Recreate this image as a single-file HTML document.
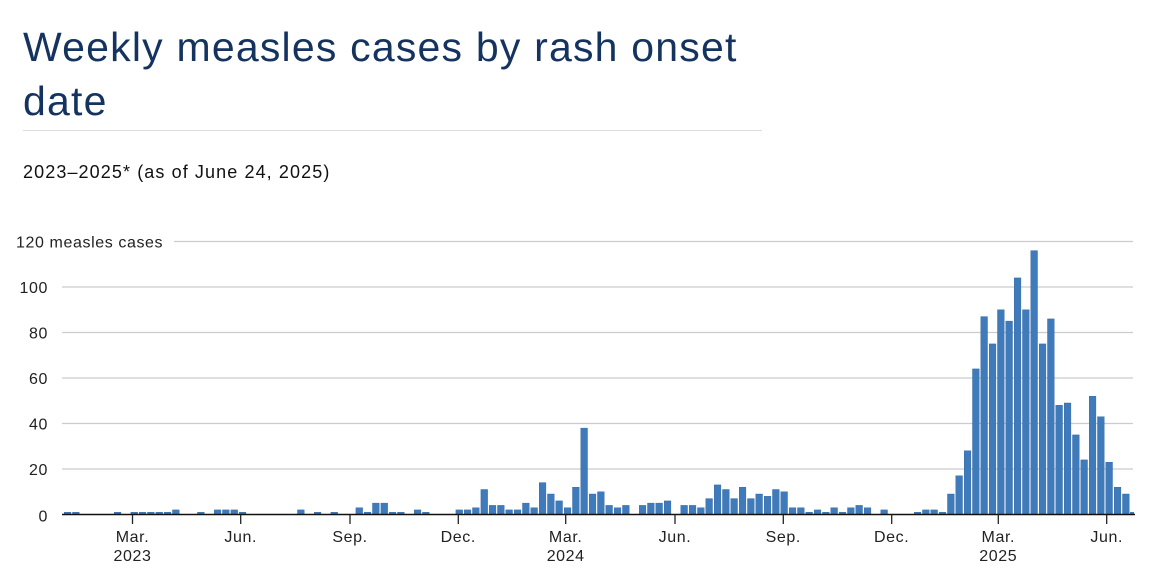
<!DOCTYPE html>
<html><head><meta charset="utf-8"><style>
body{margin:0;background:#fff;width:1170px;height:576px;overflow:hidden;font-family:"Liberation Sans",sans-serif}
h1{position:absolute;left:23px;top:20px;margin:0;font-weight:300;font-size:41px;line-height:54px;color:#15335f;width:780px;letter-spacing:1.2px}
.rule{position:absolute;left:23px;top:130px;width:739px;height:1px;background:#ddd}
.sub{position:absolute;left:23px;top:162px;font-size:18px;letter-spacing:1.1px;color:#111}
svg{position:absolute;left:0;top:0}
</style></head><body>
<h1>Weekly measles cases by rash onset<br>date</h1>
<div class="rule"></div>
<div class="sub">2023–2025* (as of June 24, 2025)</div>
<svg width="1170" height="576" id="s" font-family="Liberation Sans, sans-serif" font-size="16" letter-spacing="0.6" fill="#222"></svg>
<script>
var d={0:1,1:1,6:1,8:1,9:1,10:1,11:1,12:1,13:2,16:1,18:2,19:2,20:2,21:1,28:2,30:1,32:1,35:3,36:1,37:5,38:5,39:1,40:1,42:2,43:1,
47:2,48:2,49:3,50:11,51:4,52:4,53:2,54:2,55:5,56:3,57:14,58:9,59:6,60:3,61:12,62:38,63:9,64:10,65:4,66:3,67:4,69:4,70:5,71:5,72:6,74:4,75:4,76:3,77:7,78:13,79:11,80:7,81:12,82:7,83:9,84:8,85:11,86:10,87:3,88:3,89:1,90:2,91:1,92:3,93:1,94:3,95:4,96:3,98:2,102:1,103:2,104:2,105:1,106:9,107:17,108:28,109:64,110:87,111:75,112:90,113:85,114:104,115:90,116:116,117:75,118:86,119:48,120:49,121:35,122:24,123:52,124:43,125:23,126:12,127:9};
var s='',y0=514.5,k=2.275;
for(var v=20;v<=120;v+=20){var y=y0-v*k;s+='<line x1="'+(v==120?174:62)+'" x2="1133" y1="'+y+'" y2="'+y+'" stroke="#ccc" stroke-width="1.3"/>';
s+='<text x="'+(v==120?16:48)+'" y="'+(y+6)+'" text-anchor="'+(v==120?'start':'end')+'">'+(v==120?'120 measles cases':v)+'</text>';}
s+='<text x="48" y="'+(y0+7)+'" text-anchor="end">0</text>';
for(var i in d){var h=d[i]*k,x=64.2+i*8.333;s+='<rect x="'+x.toFixed(1)+'" y="'+(y0-h).toFixed(1)+'" width="6.7" height="'+h.toFixed(1)+'" fill="#3f7bbb" stroke="#2b62a2" stroke-width="0.4"/>';}
s+='<rect x="1130" y="512" width="4" height="2.5" fill="#3f7bbb"/>';
s+='<line x1="62" x2="1135" y1="'+y0+'" y2="'+y0+'" stroke="#111" stroke-width="1.5"/>';
var t=[[132.5,'Mar.','2023'],[240.7,'Jun.'],[350,'Sep.'],[458.3,'Dec.'],[565.7,'Mar.','2024'],[675,'Jun.'],[783.3,'Sep.'],[891.7,'Dec.'],[998.3,'Mar.','2025'],[1106.7,'Jun.']];
t.forEach(function(a){s+='<line x1="'+a[0]+'" x2="'+a[0]+'" y1="'+y0+'" y2="524" stroke="#222" stroke-width="1.3"/>';
s+='<text x="'+a[0]+'" y="542" text-anchor="middle">'+a[1]+'</text>';if(a[2])s+='<text x="'+a[0]+'" y="561" text-anchor="middle">'+a[2]+'</text>';});
document.getElementById('s').innerHTML=s;
</script>
</body></html>
